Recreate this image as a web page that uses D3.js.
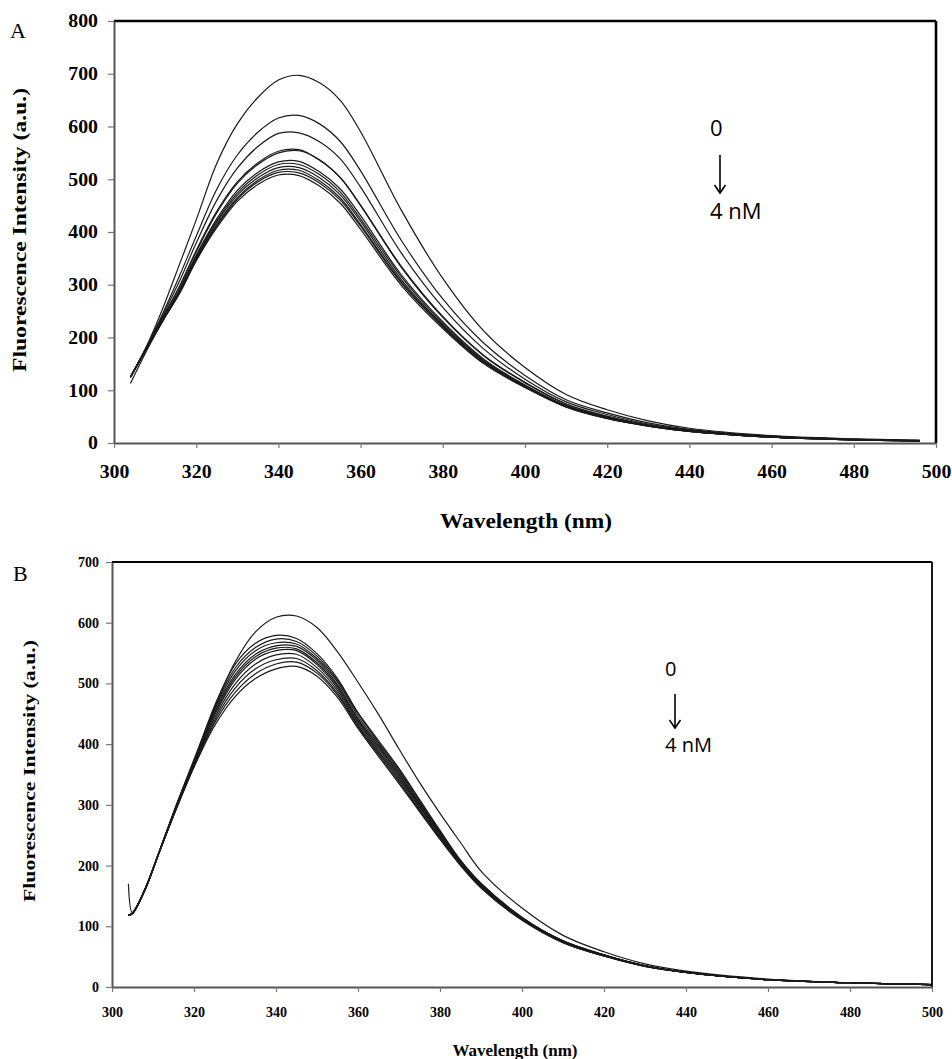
<!DOCTYPE html>
<html>
<head>
<meta charset="utf-8">
<script src="https://cdn.jsdelivr.net/npm/d3@7/dist/d3.min.js"></script>
<style>
  html, body { margin: 0; padding: 0; background: #fff; }
  svg { display: block; }
</style>
</head>
<body>
<svg id="chart" width="952" height="1059"></svg>
<script>
// ---------------- Panel A data ----------------
const wavelengthsA = [304, 308, 312, 316, 320, 325, 330, 335, 340, 345, 350, 355, 360, 370, 380, 390, 400, 410, 420, 430, 440, 460, 480, 496];
const A_c01 = [125, 185, 258, 340, 423, 530, 605, 655, 688, 697, 683, 650, 590, 440, 312, 212, 143, 92, 63, 42, 28, 14, 8, 5];
const A_c02 = [125, 183, 248, 318, 392, 481, 546, 589, 616, 621, 605, 572, 516, 383, 273, 189, 128, 82, 57, 38, 26, 13, 7, 5];
const A_c03 = [125, 182, 244, 308, 379, 460, 521, 562, 587, 588, 571, 539, 485, 359, 257, 178, 121, 78, 54, 36, 25, 12, 7, 5];
const A_c04 = [125, 181, 239, 298, 365, 439, 495, 531, 553, 556, 536, 504, 451, 334, 240, 166, 115, 74, 51, 34, 24, 12, 7, 4];
const A_c05 = [126, 182, 240, 297, 362, 436, 492, 528, 550, 554, 537, 503, 450, 332, 238, 165, 114, 74, 50, 34, 23, 12, 7, 4];
const A_c06 = [125, 181, 236, 292, 356, 425, 479, 513, 533, 534, 514, 482, 431, 318, 230, 159, 110, 71, 49, 33, 23, 11, 6, 4];
const A_c07 = [125, 180, 236, 290, 354, 421, 474, 508, 528, 528, 509, 476, 425, 314, 227, 157, 109, 71, 48, 33, 23, 11, 6, 4];
const A_c08 = [124, 180, 235, 288, 351, 418, 470, 503, 522, 522, 503, 471, 420, 309, 224, 155, 108, 70, 47, 33, 22, 11, 6, 4];
const A_c09 = [125, 180, 234, 287, 349, 414, 465, 498, 517, 517, 497, 465, 414, 305, 222, 153, 107, 69, 47, 32, 22, 11, 6, 4];
const A_c10 = [113, 176, 233, 286, 347, 411, 462, 495, 513, 512, 493, 461, 411, 302, 220, 152, 106, 69, 47, 32, 22, 11, 6, 4];
const A_c11 = [125, 180, 233, 284, 345, 408, 458, 490, 508, 507, 487, 455, 405, 298, 217, 150, 105, 68, 46, 32, 22, 11, 6, 4];
const seriesA = [A_c01, A_c02, A_c03, A_c04, A_c05, A_c06, A_c07, A_c08, A_c09, A_c10, A_c11];
const yTicksA = [0, 100, 200, 300, 400, 500, 600, 700, 800];
const xTicksA = [300, 320, 340, 360, 380, 400, 420, 440, 460, 480, 500];

// ---------------- Panel B data ----------------
const wavelengthsB = [304, 305, 308, 312, 316, 320, 325, 330, 335, 340, 345, 350, 355, 360, 365, 370, 375, 380, 385, 390, 400, 410, 420, 430, 440, 460, 480, 500];
const B_c01 = [118, 122, 158, 232, 305, 375, 460, 535, 585, 609, 611, 592, 552, 502, 449, 392, 337, 286, 238, 191, 130, 85, 58, 38, 26, 13, 7, 4];
const B_c02 = [118, 121, 160, 232, 305, 372, 463, 531, 566, 579, 574, 549, 508, 452, 406, 360, 309, 258, 209, 171, 115, 76, 53, 35, 24, 12, 7, 4];
const B_c03 = [118, 121, 160, 231, 304, 371, 459, 525, 559, 573, 569, 545, 505, 450, 403, 358, 307, 256, 208, 170, 114, 76, 53, 35, 24, 12, 7, 4];
const B_c04 = [118, 122, 161, 232, 303, 370, 456, 520, 554, 567, 565, 541, 502, 446, 400, 355, 304, 255, 207, 170, 114, 76, 53, 35, 24, 12, 7, 4];
const B_c05 = [119, 121, 160, 231, 302, 369, 453, 514, 548, 562, 561, 538, 498, 442, 397, 352, 302, 253, 206, 169, 113, 75, 52, 35, 24, 12, 7, 4];
const B_c06 = [118, 121, 160, 231, 302, 368, 450, 510, 544, 558, 557, 534, 495, 440, 395, 350, 300, 252, 205, 168, 113, 75, 52, 35, 24, 12, 7, 4];
const B_c07 = [118, 121, 160, 231, 301, 367, 447, 506, 540, 554, 554, 531, 492, 437, 392, 347, 298, 250, 204, 167, 113, 75, 52, 35, 24, 12, 7, 4];
const B_c08 = [170, 122, 160, 231, 301, 366, 443, 499, 532, 547, 548, 526, 488, 434, 389, 344, 296, 248, 203, 166, 112, 74, 52, 35, 24, 12, 7, 4];
const B_c09 = [118, 121, 160, 230, 300, 365, 439, 492, 524, 539, 541, 521, 484, 431, 386, 341, 293, 246, 202, 165, 111, 74, 51, 34, 24, 12, 7, 4];
const B_c10 = [118, 122, 160, 230, 299, 363, 435, 485, 516, 532, 535, 517, 481, 429, 383, 338, 291, 245, 201, 164, 111, 73, 51, 34, 24, 12, 7, 4];
const B_c11 = [118, 122, 160, 230, 298, 362, 430, 478, 508, 524, 528, 512, 477, 426, 380, 335, 289, 243, 200, 163, 110, 73, 51, 34, 24, 12, 7, 4];
const seriesB = [B_c01, B_c02, B_c03, B_c04, B_c05, B_c06, B_c07, B_c08, B_c09, B_c10, B_c11];
const yTicksB = [0, 100, 200, 300, 400, 500, 600, 700];
const xTicksB = [300, 320, 340, 360, 380, 400, 420, 440, 460, 480, 500];

// ---------------- Labels ----------------
const yTitle = "Fluorescence Intensity (a.u.)";
const xTitle = "Wavelength (nm)";
const annotTop = "0";
const annotBottom = "4 nM";

const svg = d3.select("#chart");
const serif = "'Liberation Serif', 'Times New Roman', serif";
const sans = "'Open Sans', 'Liberation Sans', sans-serif";

function stretch(sel, factor) {
  if (factor === 1) return;
  sel.each(function () {
    const len = this.getComputedTextLength();
    d3.select(this).attr("textLength", len * factor).attr("lengthAdjust", "spacingAndGlyphs");
  });
}

function drawPanel(cfg) {
  const g = svg.append("g");
  const x = d3.scaleLinear().domain([300, 500]).range([cfg.left, cfg.right]);
  const y = d3.scaleLinear().domain([0, cfg.yMax]).range([cfg.bottom, cfg.top]);

  const line = d3.line()
    .x(d => x(d[0]))
    .y(d => y(d[1]))
    .curve(d3.curveCatmullRom.alpha(0.5));
  cfg.series.forEach(vals => {
    const pts = cfg.wl.map((w, i) => [w, vals[i]]);
    g.append("path")
      .attr("d", line(pts))
      .attr("fill", "none")
      .attr("stroke", "#1a1a1a")
      .attr("stroke-width", 1.2)
      .attr("stroke-linejoin", "round");
  });

  g.append("line").attr("x1", cfg.left).attr("x2", cfg.right).attr("y1", cfg.top).attr("y2", cfg.top)
    .attr("stroke", "#000").attr("stroke-width", cfg.frameW);
  g.append("line").attr("x1", cfg.right).attr("x2", cfg.right).attr("y1", cfg.top).attr("y2", cfg.bottom)
    .attr("stroke", "#000").attr("stroke-width", cfg.frameW);

  const ax = g.append("g").attr("transform", `translate(0,${cfg.bottom})`)
    .call(d3.axisBottom(x).tickValues(cfg.xTicks).tickSize(5).tickSizeOuter(0).tickPadding(cfg.xPad).tickFormat(d3.format("d")));
  const ay = g.append("g").attr("transform", `translate(${cfg.left},0)`)
    .call(d3.axisLeft(y).tickValues(cfg.yTicks).tickSize(6).tickSizeOuter(0).tickPadding(cfg.yPad).tickFormat(d3.format("d")));
  [ax, ay].forEach(a => {
    a.select(".domain").attr("stroke", "#555").attr("stroke-width", 2);
    a.selectAll(".tick line").attr("stroke", "#777").attr("stroke-width", 1.2);
    const t = a.selectAll(".tick text")
      .attr("fill", "#000")
      .style("font-family", serif)
      .style("font-weight", "bold")
      .style("font-size", cfg.tickFont + "px");
    stretch(t, cfg.tickStretch);
  });

  g.append("text")
    .attr("transform", `translate(${cfg.yTitleX},${cfg.yTitleY}) rotate(-90)`)
    .attr("text-anchor", "middle")
    .attr("textLength", cfg.yTitleLen).attr("lengthAdjust", "spacingAndGlyphs")
    .style("font-family", serif)
    .style("font-weight", "bold")
    .style("font-size", cfg.yTitleFont + "px")
    .text(yTitle);
  g.append("text")
    .attr("x", cfg.xTitleX).attr("y", cfg.xTitleY)
    .attr("text-anchor", "middle")
    .attr("textLength", cfg.xTitleLen).attr("lengthAdjust", "spacingAndGlyphs")
    .style("font-family", serif)
    .style("font-weight", "bold")
    .style("font-size", cfg.xTitleFont + "px")
    .text(xTitle);

  g.append("text")
    .attr("x", cfg.letterX).attr("y", cfg.letterY)
    .style("font-family", serif)
    .style("font-size", "22px")
    .text(cfg.letter);

  const an = cfg.annot;
  g.append("text").attr("x", an.x).attr("y", an.y0)
    .style("font-family", sans)
    .style("font-size", an.font + "px").text(annotTop);
  g.append("text").attr("x", an.x).attr("y", an.y1)
    .style("font-family", sans)
    .style("font-size", an.font + "px").text(annotBottom);
  g.append("line").attr("x1", an.ax).attr("x2", an.ax).attr("y1", an.a0).attr("y2", an.a1)
    .attr("stroke", "#000").attr("stroke-width", 1.6);
  g.append("path")
    .attr("d", `M${an.ax - 5.5},${an.a1 - 8} L${an.ax},${an.a1} L${an.ax + 5.5},${an.a1 - 8}`)
    .attr("fill", "none").attr("stroke", "#000").attr("stroke-width", 1.6);
}

drawPanel({
  left: 114, right: 936, top: 21, bottom: 443, yMax: 800,
  wl: wavelengthsA, series: seriesA, xTicks: xTicksA, yTicks: yTicksA,
  frameW: 2.6, xPad: 17, yPad: 10, tickFont: 18, tickStretch: 1.1,
  yTitleX: 26, yTitleY: 230, yTitleFont: 19, yTitleLen: 284,
  xTitleX: 526, xTitleY: 528, xTitleFont: 20, xTitleLen: 172,
  letter: "A", letterX: 10, letterY: 38,
  annot: { x: 710, y0: 136, y1: 219, font: 22, ax: 720, a0: 155, a1: 193 }
});

drawPanel({
  left: 112, right: 932, top: 562, bottom: 987, yMax: 700,
  wl: wavelengthsB, series: seriesB, xTicks: xTicksB, yTicks: yTicksB,
  frameW: 1.8, xPad: 15, yPad: 7, tickFont: 14, tickStretch: 1,
  yTitleX: 35, yTitleY: 771, yTitleFont: 17, yTitleLen: 262,
  xTitleX: 515, xTitleY: 1056, xTitleFont: 17, xTitleLen: 125,
  letter: "B", letterX: 13, letterY: 581,
  annot: { x: 665, y0: 676, y1: 752, font: 20, ax: 675, a0: 694, a1: 728 }
});
</script>
</body>
</html>
